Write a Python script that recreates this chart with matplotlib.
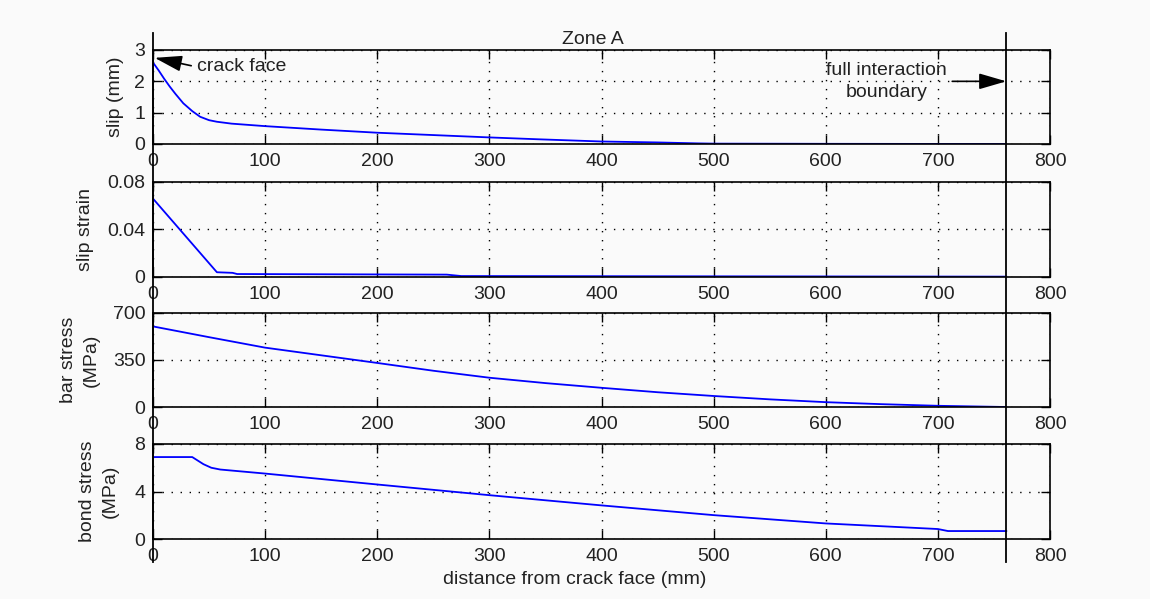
import matplotlib
matplotlib.use("Agg")
import matplotlib.pyplot as plt
import matplotlib.transforms as mtransforms
from matplotlib.lines import Line2D

plt.rcParams["font.family"] = ["Liberation Sans", "DejaVu Sans"]
plt.rcParams["font.size"] = 14

# Profiles along the bar, x = distance from crack face (mm)
slip_x = [0, 5, 10, 15, 20, 27, 35, 42, 50, 57, 70, 100, 150, 200, 260,
          300, 344, 400, 450, 486, 500, 600, 761]
slip_mm = [2.6, 2.35, 2.08, 1.83, 1.6, 1.3, 1.05, 0.87, 0.76, 0.71, 0.65,
           0.57, 0.46, 0.36, 0.27, 0.21, 0.15, 0.08, 0.05, 0.02, 0.012,
           0.006, 0.0]

strain_x = [0, 57, 71, 75, 262, 275, 761]
slip_strain = [0.066, 0.004, 0.0035, 0.0025, 0.002, 0.0008, 0.0003]

bar_x = [0, 50, 100, 150, 200, 250, 300, 350, 400, 450, 500, 550, 600,
         650, 700, 761]
bar_stress = [600, 520, 442, 385, 328, 270, 218, 178, 143, 110, 82, 57,
              36, 21, 9, 0]

bond_x = [0, 35, 40, 45, 52, 60, 100, 200, 300, 400, 500, 600, 700, 709,
          761]
bond_stress = [6.9, 6.9, 6.6, 6.3, 6.0, 5.85, 5.51, 4.59, 3.69, 2.83,
               2.01, 1.31, 0.84, 0.67, 0.67]

crack_face = 0
interaction_boundary = 761

x_ticks = [0, 100, 200, 300, 400, 500, 600, 700, 800]
slip_ticks = [0, 1, 2, 3]
strain_ticks = [0, 0.04, 0.08]
strain_labels = ["0", "0.04", "0.08"]
bar_ticks = [0, 350, 700]
bond_ticks = [0, 4, 8]

panels = [
    (slip_x, slip_mm, slip_ticks, [str(t) for t in slip_ticks], "slip (mm)", -0.042),
    (strain_x, slip_strain, strain_ticks, strain_labels, "slip strain", -0.075),
    (bar_x, bar_stress, bar_ticks, [str(t) for t in bar_ticks], "bar stress\n(MPa)", -0.082),
    (bond_x, bond_stress, bond_ticks, [str(t) for t in bond_ticks], "bond stress\n(MPa)", -0.060),
]

W, H = 1150, 599
fig = plt.figure(figsize=(W / 100, H / 100), dpi=100, facecolor="#fafafa")

left = 153 / W
width = (1050 - 153) / W
rows = [(50, 144), (182, 277), (313, 407), (444, 539)]

grid_style = dict(color="black", linestyle=(0, (1, 5.5)), linewidth=1.0)

axes = []
for (top, bottom), (xs, ys, yt, ytl, ylab, ylab_x) in zip(rows, panels):
    ax = fig.add_axes([left, 1 - bottom / H, width, (bottom - top) / H])
    ax.set_facecolor("#fafafa")
    ax.plot(xs, ys, color="#0000ff", linewidth=1.3)
    ax.set_xlim(0, 800)
    ax.set_ylim(yt[0], yt[-1])
    ax.set_xticks(x_ticks)
    ax.set_xticklabels([str(t) for t in x_ticks])
    ax.set_yticks(yt)
    ax.set_yticklabels(ytl)
    ax.grid(True, **grid_style)
    for s in ax.spines.values():
        s.set_linewidth(1.2)
    ax.tick_params(direction="in", length=6.5, width=1.0, top=True,
                   right=True, colors="black", labelcolor="#222222")
    ax.tick_params(axis="x", pad=6.5)
    ax.tick_params(axis="y", pad=5.5)
    ax.set_ylabel(ylab, va="center", ha="center", linespacing=1.45,
                  color="#222222")
    ax.yaxis.set_label_coords(ylab_x, 0.5)
    axes.append(ax)

ax1 = axes[0]
ax1.set_title("Zone A", pad=4, x=0.49, fontsize=14, color="#222222")
axes[-1].set_xlabel("distance from crack face (mm)", x=0.47, labelpad=4,
                    color="#222222")

# Vertical markers for the crack face and the full interaction boundary
trans = mtransforms.blended_transform_factory(ax1.transData, fig.transFigure)
for xv in (crack_face, interaction_boundary):
    fig.add_artist(Line2D([xv, xv], [1 - 33 / H, 1 - 562 / H],
                          transform=trans, color="black", linewidth=1.3))

arrow = dict(arrowstyle="-|>,head_length=1.2,head_width=0.35",
             color="black", linewidth=1.2, shrinkA=2, shrinkB=0)

ax1.annotate("crack face", xy=(crack_face + 1.5, 2.75), xytext=(39, 2.46),
             ha="left", va="center", color="#222222",
             arrowprops=dict(arrow, relpos=(0, 0.5)))

ax1.annotate("full interaction\nboundary", xy=(interaction_boundary, 2),
             xytext=(654, 2), ha="center", va="center", linespacing=1.35,
             color="#222222",
             arrowprops=dict(arrow, relpos=(1, 0.5)))

fig.savefig("out.png", dpi=100, facecolor=fig.get_facecolor())
